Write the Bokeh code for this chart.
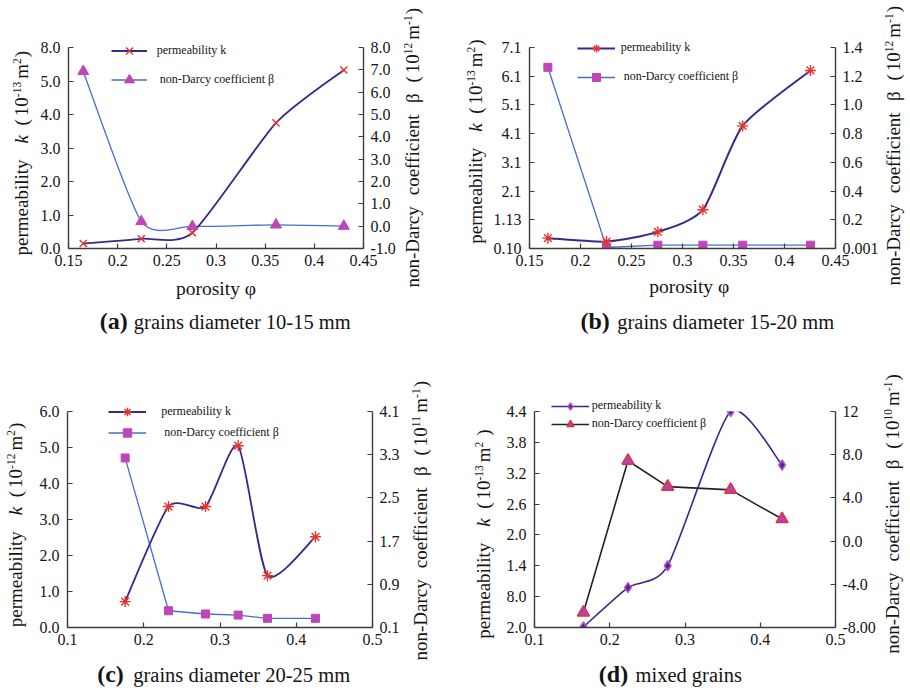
import math
import numpy as np
from bokeh.plotting import figure
from bokeh.models import Range1d, LinearAxis, FixedTicker, Legend, LegendItem
from bokeh.layouts import column, row
from bokeh.core.properties import value
from bokeh.embed import file_html
from bokeh.resources import INLINE

# ---------------- data ----------------
a_phi = [0.165, 0.224, 0.276, 0.361, 0.430]
a_k = [0.15, 0.29, 0.47, 3.75, 5.33]
a_beta = [6.93, 0.21, -0.01, 0.06, 0.00]

b_phi = [0.168, 0.2255, 0.2758, 0.320, 0.359, 0.4255]
b_k = [0.46, 0.34, 0.68, 1.45, 4.37, 6.30]
b_beta = [1.262, 0.007, 0.023, 0.023, 0.023, 0.023]

c_phi = [0.1756, 0.2325, 0.281, 0.3238, 0.3623, 0.4252]
c_k = [0.72, 3.36, 3.36, 5.05, 1.44, 2.52]
c_beta = [3.24, 0.41, 0.35, 0.33, 0.27, 0.27]

d_phi = [0.165, 0.2242, 0.277, 0.3607, 0.429]
d_k = [0.21, 0.976, 1.40, 4.40, 3.36]
d_beta = [-6.61, 7.44, 5.04, 4.74, 2.04]

# tick positions and tick labels
ab_xticks = [0.15, 0.2, 0.25, 0.3, 0.35, 0.4, 0.45]
ab_xlabels = ["0.15", "0.2", "0.25", "0.3", "0.35", "0.4", "0.45"]
cd_xticks = [0.1, 0.2, 0.3, 0.4, 0.5]
cd_xlabels = ["0.1", "0.2", "0.3", "0.4", "0.5"]

a_lticks = [0, 1, 2, 3, 4, 5, 6]
a_llabels = ["0.0", "1.0", "2.0", "3.0", "4.0", "5.0", "8.0"]
a_rticks = [-1, 0, 1, 2, 3, 4, 5, 6, 7, 8]
a_rlabels = ["-1.0", "0.0", "1.0", "2.0", "3.0", "4.0", "5.0", "6.0", "7.0", "8.0"]

b_lticks = [0.1, 1.1, 2.1, 3.1, 4.1, 5.1, 6.1, 7.1]
b_llabels = ["0.10", "1.13", "2.1", "3.1", "4.1", "5.1", "6.1", "7.1"]
b_rticks = [0, 0.2, 0.4, 0.6, 0.8, 1.0, 1.2, 1.4]
b_rlabels = ["0.001", "0.2", "0.4", "0.6", "0.8", "1.0", "1.2", "1.4"]

c_lticks = [0, 1, 2, 3, 4, 5, 6]
c_llabels = ["0.0", "1.0", "2.0", "3.0", "4.0", "5.0", "6.0"]
c_rticks = [0.1, 0.9, 1.7, 2.5, 3.3, 4.1]
c_rlabels = ["0.1", "0.9", "1.7", "2.5", "3.3", "4.1"]

d_lticks = [0.2, 0.8, 1.4, 2.0, 2.6, 3.2, 3.8, 4.4]
d_llabels = ["2.0", "8.0", "1.4", "2.0", "2.6", "3.2", "3.8", "4.4"]
d_rticks = [-8, -4, 0, 4, 8, 12]
d_rlabels = ["-8.00", "-4.0", "0.0", "4.0", "8.0", "12"]

k_name = "permeability k"
beta_name = "non-Darcy coefficient \u03b2"

# ---------------- styles ----------------
FONT = "Liberation Serif"
TXT = "#141414"
AX = "#3c3c3c"
RED = "#e8322c"
MAG = "#bf45b9"
KLINE = "#35298c"
BLINE = "#4470c8"
SMOOTH = 1.0 / 9.0
PW, PH = 455, 345
BASE_FIX = 0.33   # baseline correction (fraction of font size)

TW = {' ': .25, '(': .333, ')': .333, '-': .333, '.': .25, 'a': .444, 'b': .5, 'c': .444,
      'd': .5, 'e': .444, 'f': .333, 'g': .5, 'h': .5, 'i': .278, 'k': .5, 'l': .278,
      'm': .778, 'n': .5, 'o': .5, 'p': .5, 'r': .333, 's': .389, 't': .278, 'u': .5,
      'x': .5, 'y': .5, 'D': .722, '\u03b2': .5, '\u03c6': .52}
TWI = {'k': .444}
TWB = {'(': .333, ')': .333, 'a': .5, 'b': .556, 'c': .444, 'd': .556}


def tw(s, size, style="normal"):
    w = 0.0
    for ch in s:
        if style == "bold":
            w += TWB.get(ch, TW.get(ch, .5))
        elif style == "italic":
            w += TWI.get(ch, TW.get(ch, .5))
        else:
            w += TW.get(ch, .5)
    return w * size


def style_axis(ax, ticks, labels, standoff):
    ax.ticker = FixedTicker(ticks=ticks, minor_ticks=[])
    ax.major_label_overrides = dict(zip(ticks, labels))
    ax.axis_line_color = AX
    ax.axis_line_width = 1.4
    ax.major_tick_line_color = AX
    ax.major_tick_line_width = 1.2
    ax.major_tick_in = 5
    ax.major_tick_out = 0
    ax.minor_tick_line_color = None
    ax.major_label_text_font = FONT
    ax.major_label_text_font_size = "16px"
    ax.major_label_text_color = TXT
    ax.major_label_standoff = standoff


def make_fig(bl, bt, fw, fh, xr, yr, yr2, xt, xl, lt, ll, rt, rl):
    p = figure(width=PW, height=PH, x_range=Range1d(*xr), y_range=Range1d(*yr),
               min_border_left=bl, min_border_right=PW - bl - fw,
               min_border_top=bt, min_border_bottom=PH - bt - fh,
               output_backend="svg", toolbar_location=None, tools="")
    p.extra_y_ranges = {"r": Range1d(*yr2)}
    p.xgrid.visible = False
    p.ygrid.visible = False
    p.outline_line_color = None
    p.background_fill_color = "white"
    p.border_fill_color = "white"
    style_axis(p.xaxis[0], xt, xl, 6)
    style_axis(p.yaxis[0], lt, ll, 8)
    rax = LinearAxis(y_range_name="r")
    style_axis(rax, rt, rl, 7)
    p.add_layout(rax, "right")
    return p


def smooth(p, xs, ys, color, width, yname="default"):
    n = len(xs)
    x0, y0, x1, y1, cx0, cy0, cx1, cy1 = [], [], [], [], [], [], [], []
    for i in range(n - 1):
        ip = max(i - 1, 0)
        inn = min(i + 2, n - 1)
        x0.append(xs[i]); y0.append(ys[i])
        x1.append(xs[i + 1]); y1.append(ys[i + 1])
        cx0.append(xs[i] + (xs[i + 1] - xs[ip]) * SMOOTH)
        cy0.append(ys[i] + (ys[i + 1] - ys[ip]) * SMOOTH)
        cx1.append(xs[i + 1] - (xs[inn] - xs[i]) * SMOOTH)
        cy1.append(ys[i + 1] - (ys[inn] - ys[i]) * SMOOTH)
    return p.bezier(x0=x0, y0=y0, x1=x1, y1=y1, cx0=cx0, cy0=cy0, cx1=cx1, cy1=cy1,
                    line_color=color, line_width=width, y_range_name=yname)


# ---------------- panel (a) ----------------
pa = make_fig(68, 47, 295, 201, (0.15, 0.45), (0, 6), (-1, 8),
              ab_xticks, ab_xlabels, a_lticks, a_llabels, a_rticks, a_rlabels)
smooth(pa, a_phi, a_beta, BLINE, 1.3, "r")
smooth(pa, a_phi, a_k, KLINE, 1.8)
pa.scatter(a_phi, a_beta, marker="triangle", size=11, fill_color=MAG, line_color=MAG,
           y_range_name="r")
pa.scatter(a_phi, a_k, marker="x", size=10, line_color=RED, line_width=1.4)

# ---------------- panel (b) ----------------
pb = make_fig(74, 45, 306, 203, (0.15, 0.45), (0.1, 7.1), (0, 1.4),
              ab_xticks, ab_xlabels, b_lticks, b_llabels, b_rticks, b_rlabels)
pb.line(b_phi, b_beta, line_color=BLINE, line_width=1.3, y_range_name="r")
smooth(pb, b_phi, b_k, KLINE, 2.0)
pb.scatter(b_phi, b_beta, marker="square", size=8, fill_color=MAG, line_color=MAG,
           y_range_name="r")
pb.scatter(b_phi, b_k, marker="asterisk", size=11, line_color=RED, line_width=1.4)

# ---------------- panel (c) ----------------
pc = make_fig(67, 66, 305, 216, (0.1, 0.5), (0, 6), (0.1, 4.1),
              cd_xticks, cd_xlabels, c_lticks, c_llabels, c_rticks, c_rlabels)
pc.line(c_phi, c_beta, line_color=BLINE, line_width=1.3, y_range_name="r")
smooth(pc, c_phi, c_k, KLINE, 1.8)
pc.scatter(c_phi, c_beta, marker="square", size=8, fill_color=MAG, line_color=MAG,
           y_range_name="r")
pc.scatter(c_phi, c_k, marker="asterisk", size=11, line_color=RED, line_width=1.4)

# ---------------- panel (d) ----------------
pd_ = make_fig(79, 61, 301, 222, (0.1, 0.5), (0.2, 4.4), (-8, 12),
               cd_xticks, cd_xlabels, d_lticks, d_llabels, d_rticks, d_rlabels)
pd_.line(d_phi, d_beta, line_color="#222222", line_width=1.6, y_range_name="r")
smooth(pd_, d_phi, d_k, KLINE, 1.6)
pd_.scatter(d_phi, d_beta, marker="triangle", size=12, fill_color="#a848b8",
            line_color=RED, line_width=1.5, y_range_name="r")
pd_.scatter(d_phi, d_k, marker="diamond", size=10, fill_color="#4a2a90",
            line_color="#c050c8", line_width=1.5)

# ---------------- transparent text overlay (page pixel coordinates) ----------------
OW, OH = 2 * PW, 2 * PH
ov = figure(width=OW, height=OH, x_range=Range1d(0, OW), y_range=Range1d(OH, 0),
            min_border=0, min_border_left=0, min_border_right=0, min_border_top=0,
            min_border_bottom=0, x_axis_location=None, y_axis_location=None,
            output_backend="svg", toolbar_location=None, tools="")
ov.grid.visible = False
ov.outline_line_color = None
ov.background_fill_color = None
ov.border_fill_color = None
ov.margin = (-OH, 0, 0, 0)


def txt(x, y, s, size, style="normal", angle=0.0, align="left"):
    fix = BASE_FIX * size
    if angle:
        x -= fix
    else:
        y -= fix
    ov.text(x=[x], y=[y], text=[s], angle=angle, text_font=value(FONT),
            text_font_size=f"{size}px", text_font_style=style, text_color=TXT,
            text_align=align, text_baseline="alphabetic")


def vrich(bx, by, pieces):
    adv = 0.0
    for gap, text, size, style, rise in pieces:
        adv += gap
        txt(bx - rise, by - adv, text, size, style, angle=math.pi / 2)
        adv += tw(text, size, style)


def left_pieces(exp, space_before_paren=False):
    return [(0, "permeability", 19, "normal", 0), (16, "k", 19, "italic", 0),
            (9.5, "(", 19, "normal", 0), (3, "10", 19, "normal", 0),
            (0, exp, 11.5, "normal", 7), (3, "m", 19, "normal", 0),
            (0, "2", 11.5, "normal", 7), (6 if space_before_paren else 1, ")", 19, "normal", 0)]


def right_pieces(exp):
    return [(0, "non-Darcy", 19, "normal", 0), (11, "coefficient", 19, "normal", 0),
            (11, "\u03b2", 19, "normal", 0), (11, "(", 19, "normal", 0),
            (3, "10", 19, "normal", 0), (0, exp, 11.5, "normal", 7),
            (3, "m", 19, "normal", 0), (0, "-1", 11.5, "normal", 7),
            (1, ")", 19, "normal", 0)]


NAN = np.array([np.nan])


def legend(items, glyph_left, row1_y, gw, gh, gap, standoff):
    its = []
    for label, lkw, mkw in items:
        r1 = ov.line(x=NAN, y=NAN, **lkw)
        r2 = ov.scatter(x=NAN, y=NAN, **mkw)
        its.append(LegendItem(label=label, renderers=[r1, r2]))
    bottom = row1_y - gh / 2.0 + 2 * gh + gap
    ov.add_layout(Legend(items=its, location=(glyph_left, OH - bottom), glyph_width=gw,
                         glyph_height=gh, label_height=gh, label_standoff=standoff,
                         spacing=gap, padding=0, margin=0, border_line_color=None,
                         background_fill_alpha=0, label_text_font=FONT,
                         label_text_font_size="12px", label_text_color=TXT))


# axis titles
vrich(27.5, 255, left_pieces("-13"))
vrich(418.5, 287, right_pieces("12"))
vrich(481, 243.3, left_pieces("-13"))
vrich(899, 285, right_pieces("12"))
vrich(21, 626.7, left_pieces("-12"))
vrich(426, 660, right_pieces("11"))
vrich(489, 638.3, left_pieces("-13", True))
vrich(898, 653.3, right_pieces("10"))
txt(215.5, 294, "porosity \u03c6", 19.5, align="center")
txt(688.7, 292, "porosity \u03c6", 19.5, align="center")

# captions
txt(99.3, 328, "(a)", 24, "bold")
txt(133.3, 328, "grains diameter 10-15 mm", 20.5)
txt(580, 328, "(b)", 24, "bold")
txt(616.7, 328, "grains diameter 15-20 mm", 20.5)
txt(96.7, 681, "(c)", 24, "bold")
txt(132.7, 681, "grains diameter 20-25 mm", 20.5)
txt(598.3, 681, "(d)", 24, "bold")
txt(635, 681, "mixed grains", 20.5)

# legends
k_a = dict(line_color=KLINE, line_width=1.8)
kx = dict(marker="x", size=10, line_color=RED, line_width=1.4)
b_ln = dict(line_color=BLINE, line_width=1.3)
tri = dict(marker="triangle", size=11, fill_color=MAG, line_color=MAG)
ast = dict(marker="asterisk", size=11, line_color=RED, line_width=1.4)
sq = dict(marker="square", size=8, fill_color=MAG, line_color=MAG)
legend([(k_name, k_a, kx), ("\u00a0" + beta_name, b_ln, tri)], 110.7, 50, 36, 25, 4, 10)
legend([(k_name, dict(line_color=KLINE, line_width=2.0), ast),
        ("\u00a0" + beta_name, b_ln, sq)], 576.7, 47.7, 38, 20, 9, 6)
legend([(k_name, k_a, ast), ("\u00a0" + beta_name, b_ln, sq)], 108.3, 411.7, 38, 21, 0, 15)
legend([(k_name, dict(line_color=KLINE, line_width=1.6),
         dict(marker="diamond", size=10, fill_color="#4a2a90", line_color="#c050c8",
              line_width=1.5)),
        (beta_name, dict(line_color="#222222", line_width=1.6),
         dict(marker="triangle", size=12, fill_color="#a848b8", line_color=RED,
              line_width=1.5))], 550.7, 405.7, 38, 18, 0, 3)

layout = column(row(pa, pb), row(pc, pd_), ov)
open("out.html", "w").write(file_html(layout, INLINE))
